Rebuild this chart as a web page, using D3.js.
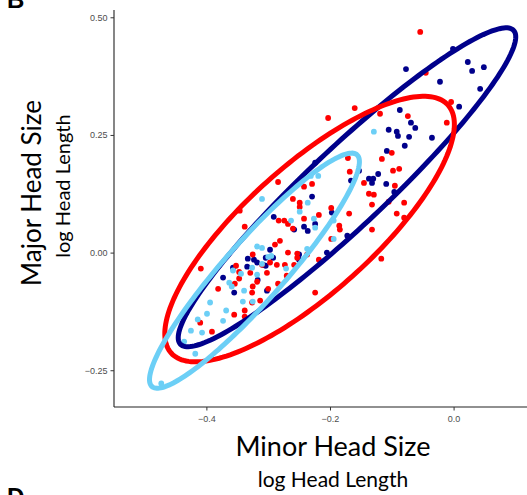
<!DOCTYPE html>
<html>
<head>
<meta charset="utf-8">
<script src="https://cdn.jsdelivr.net/npm/d3@7"></script>
<style>
  body { margin: 0; background: #fff; }
  svg { display: block; }
</style>
</head>
<body>
<div id="figure"></div>
<script>
// minor vs major head size, three groups
var navyX = [-0.001,0.023,0.030,0.049,-0.022,0.043,0.009,-0.077,-0.087,-0.069,-0.062,-0.105,-0.092,-0.090,-0.072,-0.035,-0.079,-0.108,-0.153,-0.122,-0.130,-0.137,-0.132,-0.109,-0.166,-0.096,-0.229,-0.224,-0.172,-0.291,-0.258,-0.236,-0.242,-0.224,-0.197,-0.297,-0.304,-0.323,-0.334,-0.250,-0.205,-0.308,-0.373,-0.355,-0.357,-0.333,-0.292,-0.304,-0.317,-0.302,-0.250,-0.318];
var navyY = [0.433,0.405,0.386,0.394,0.363,0.348,0.310,0.390,0.303,0.276,0.265,0.261,0.257,0.248,0.246,0.244,0.227,0.216,0.174,0.167,0.157,0.157,0.148,0.146,0.153,0.129,0.119,0.191,0.036,0.076,0.049,0.046,0.055,0.061,0.085,0.006,-0.011,-0.015,-0.030,-0.015,0.000,-0.026,-0.053,-0.085,-0.032,-0.013,-0.011,-0.028,-0.058,-0.081,-0.004,-0.021];

var redX = [-0.054,-0.004,-0.045,-0.160,-0.119,-0.074,-0.011,-0.203,-0.100,-0.116,-0.171,-0.168,-0.098,-0.088,-0.145,-0.095,-0.137,-0.129,-0.080,-0.132,-0.092,-0.169,-0.198,-0.218,-0.229,-0.242,-0.249,-0.105,-0.080,-0.132,-0.117,-0.224,-0.284,-0.260,-0.283,-0.274,-0.268,-0.260,-0.249,-0.242,-0.185,-0.184,-0.281,-0.289,-0.325,-0.253,-0.218,-0.258,-0.297,-0.273,-0.409,-0.354,-0.347,-0.381,-0.318,-0.352,-0.286,-0.329,-0.347,-0.302,-0.325,-0.300,-0.268,-0.253,-0.270,-0.237,-0.338,-0.346,-0.431,-0.410,-0.391,-0.355,-0.338,-0.338,-0.326,-0.313,-0.326,-0.284,-0.198,-0.310];
var redY = [0.469,0.320,0.382,0.307,0.295,0.290,0.276,0.286,0.212,0.199,0.201,0.172,0.174,0.178,0.148,0.142,0.125,0.123,0.106,0.102,0.083,0.083,0.095,0.080,0.146,0.140,0.106,0.108,0.074,0.049,-0.013,-0.085,0.150,0.114,0.068,0.068,0.061,0.051,0.097,0.072,0.057,0.049,0.025,0.017,-0.004,-0.002,-0.015,-0.026,-0.021,-0.026,-0.034,-0.066,-0.055,-0.077,-0.062,-0.028,-0.026,-0.043,-0.041,-0.043,-0.072,-0.077,0.000,-0.011,-0.049,-0.004,0.055,0.089,-0.123,-0.149,-0.168,-0.132,-0.123,-0.136,-0.106,-0.102,-0.085,-0.066,0.029,-0.026];

var skyX = [-0.129,-0.231,-0.219,-0.236,-0.310,-0.263,-0.249,-0.226,-0.224,-0.194,-0.194,-0.318,-0.310,-0.295,-0.237,-0.310,-0.363,-0.359,-0.339,-0.357,-0.300,-0.326,-0.344,-0.318,-0.271,-0.394,-0.414,-0.425,-0.407,-0.399,-0.373,-0.368,-0.341,-0.325,-0.436,-0.418,-0.473];
var skyY = [0.257,0.163,0.163,0.106,0.114,0.068,0.087,0.072,0.053,0.068,0.029,0.013,0.010,-0.007,0.008,-0.024,-0.064,-0.072,-0.081,-0.038,-0.009,-0.032,-0.045,-0.047,-0.034,-0.106,-0.142,-0.166,-0.170,-0.130,-0.145,-0.123,-0.104,-0.104,-0.189,-0.215,-0.278];

// ellipses: centre and two conjugate half-axes, in data units
var ellNames = ["navy", "red", "sky"];
var ellCx = [-0.1725, -0.2330, -0.3222];
var ellCy = [0.1388, 0.0500, -0.0384];
var ellUx = [0.2696, 0.2239, 0.1659];
var ellUy = [0.3334, 0.2636, 0.2462];
var ellVx = [-0.0434, -0.0690, -0.0364];
var ellVy = [0.0603, 0.1005, 0.0422];

var xTicks = [-0.4, -0.2, 0.0];
var yTicks = [-0.25, 0.00, 0.25, 0.50];

var colors = { navy: "#00008b", red: "#ff0000", sky: "#6ccff6" };

var width = 527, height = 495;
var margin = { top: 10, right: 0, bottom: 88, left: 114 };

var svg = d3.select("#figure").append("svg")
    .attr("width", width)
    .attr("height", height);

var x = d3.scaleLinear().domain([-0.5495, 0.1188]).range([margin.left, width - margin.right]);
var y = d3.scaleLinear().domain([-0.3281, 0.5155]).range([height - margin.bottom, margin.top]);

svg.append("clipPath").attr("id", "panel")
    .append("rect")
    .attr("x", margin.left).attr("y", margin.top)
    .attr("width", width - margin.left - margin.right)
    .attr("height", height - margin.top - margin.bottom);

var plot = svg.append("g").attr("clip-path", "url(#panel)");

var groups = [
    { name: "navy", xs: navyX, ys: navyY },
    { name: "red", xs: redX, ys: redY },
    { name: "sky", xs: skyX, ys: skyY }
];

groups.forEach(function (gr) {
    var pts = gr.xs.map(function (v, i) { return [v, gr.ys[i]]; });
    plot.selectAll(null)
        .data(pts)
        .enter()
        .append("circle")
        .attr("cx", function (d) { return x(d[0]); })
        .attr("cy", function (d) { return y(d[1]); })
        .attr("r", 2.9)
        .attr("fill", colors[gr.name]);
});

var line = d3.line()
    .x(function (d) { return x(d[0]); })
    .y(function (d) { return y(d[1]); })
    .curve(d3.curveLinearClosed);

ellNames.forEach(function (nm, i) {
    var pts = d3.range(0, 200).map(function (k) {
        var t = k / 200 * 2 * Math.PI;
        return [ellCx[i] + ellUx[i] * Math.cos(t) + ellVx[i] * Math.sin(t),
                ellCy[i] + ellUy[i] * Math.cos(t) + ellVy[i] * Math.sin(t)];
    });
    plot.append("path")
        .attr("d", line(pts))
        .attr("fill", "none")
        .attr("stroke", colors[nm])
        .attr("stroke-width", 5);
});

// axes
var xAxis = svg.append("g")
    .attr("transform", "translate(0," + (height - margin.bottom) + ")")
    .call(d3.axisBottom(x).tickValues(xTicks).tickSize(3.5).tickFormat(d3.format(".1f")));
var yAxis = svg.append("g")
    .attr("transform", "translate(" + margin.left + ",0)")
    .call(d3.axisLeft(y).tickValues(yTicks).tickSize(3.5).tickFormat(d3.format(".2f")));

[xAxis, yAxis].forEach(function (a) {
    a.select(".domain").attr("stroke", "#222").attr("stroke-width", 1.1)
        .attr("d", a === xAxis ? "M" + margin.left + ",0H" + width : "M0," + margin.top + "V" + (height - margin.bottom));
    a.selectAll(".tick line").attr("stroke", "#333");
    a.selectAll(".tick text")
        .attr("fill", "#4d4d4d")
        .style("font-family", "Liberation Sans, Arial, sans-serif")
        .style("font-size", "9px");
});
xAxis.selectAll(".tick text").attr("dy", "0.95em");

// titles
var titleFont = "Lato, 'Open Sans', sans-serif";
svg.append("text")
    .attr("x", 333).attr("y", 456)
    .attr("text-anchor", "middle")
    .style("font-family", titleFont).style("font-size", "27px").attr("fill", "#000")
    .text("Minor Head Size");
svg.append("text")
    .attr("x", 333).attr("y", 487)
    .attr("text-anchor", "middle")
    .style("font-family", titleFont).style("font-size", "21px").attr("fill", "#000")
    .text("log Head Length");
svg.append("text")
    .attr("transform", "translate(41,193) rotate(-90)")
    .attr("text-anchor", "middle")
    .style("font-family", titleFont).style("font-size", "26px").attr("fill", "#000")
    .text("Major Head Size");
svg.append("text")
    .attr("transform", "translate(70,186) rotate(-90)")
    .attr("text-anchor", "middle")
    .style("font-family", titleFont).style("font-size", "20px").attr("fill", "#000")
    .text("log Head Length");

// panel letters (cut off by the figure edges)
svg.append("text")
    .attr("x", 7).attr("y", 8)
    .style("font-family", "Liberation Sans, Arial, sans-serif").style("font-weight", "bold")
    .style("font-size", "24px")
    .text("B");
svg.append("text")
    .attr("x", 7).attr("y", 505)
    .style("font-family", "Liberation Sans, Arial, sans-serif").style("font-weight", "bold")
    .style("font-size", "24px")
    .text("D");
</script>
</body>
</html>
